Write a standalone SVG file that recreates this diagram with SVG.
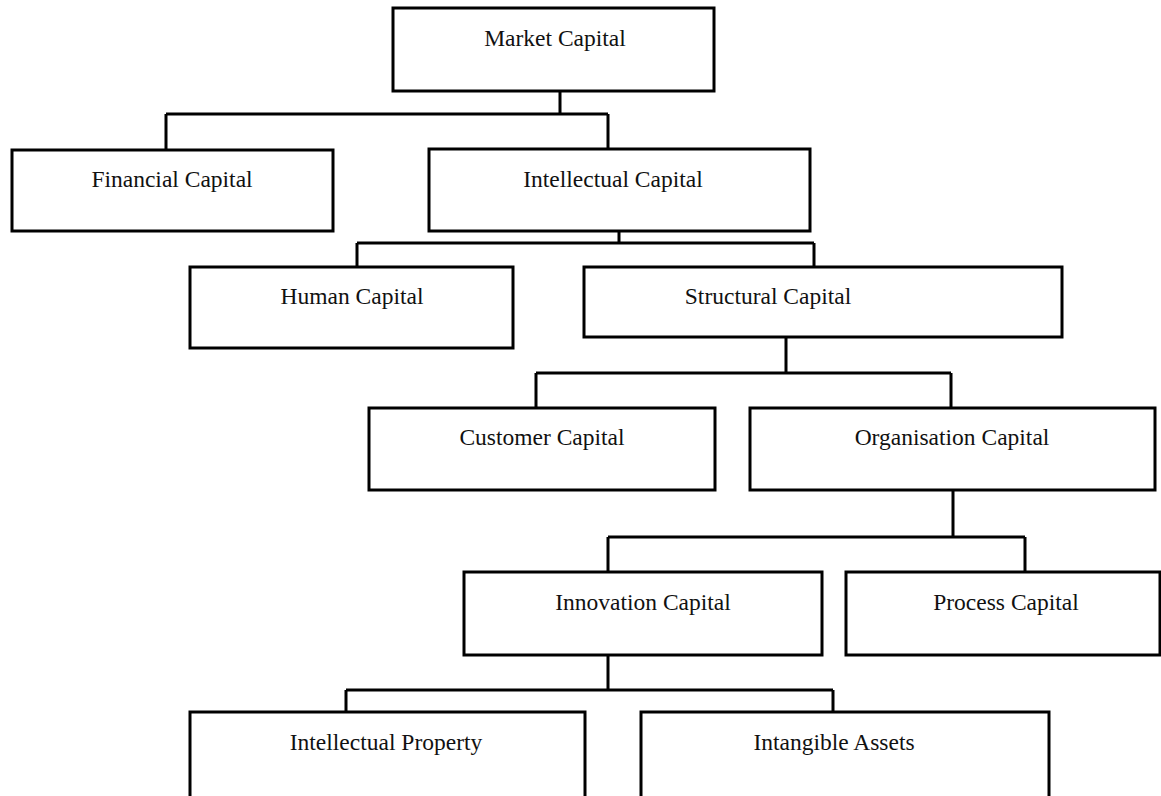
<svg xmlns="http://www.w3.org/2000/svg" width="1161" height="796" viewBox="0 0 1161 796">
<style>
.box{fill:#fff;stroke:#000;stroke-width:3}
.lbl{font-family:"Liberation Serif","Times New Roman",serif;font-size:23.5px;fill:#111;text-anchor:middle}
.conn{fill:none;stroke:#000;stroke-width:3}
</style>
<rect width="1161" height="796" fill="#fff"/>
<g id="connectors">
<path class="conn" d="M560 91V114M166 114H608M166 114V150M608 114V149"/>
<path class="conn" d="M619 231V243M357 243H814M357 243V267M814 243V267"/>
<path class="conn" d="M786 337V373M536 373H951M536 373V408M951 373V408"/>
<path class="conn" d="M953 490V537M608 537H1025M608 537V572M1025 537V572"/>
<path class="conn" d="M608 655V690M346 690H833M346 690V712M833 690V712"/>
</g>
<g id="market"><rect class="box" x="393" y="8" width="321" height="83"/><text class="lbl" x="555" y="46">Market Capital</text></g>
<g id="financial"><rect class="box" x="12" y="150" width="321" height="81"/><text class="lbl" x="172" y="187">Financial Capital</text></g>
<g id="intellectual"><rect class="box" x="429" y="149" width="381" height="82"/><text class="lbl" x="613" y="187">Intellectual Capital</text></g>
<g id="human"><rect class="box" x="190" y="267" width="323" height="81"/><text class="lbl" x="352" y="304">Human Capital</text></g>
<g id="structural"><rect class="box" x="584" y="267" width="478" height="70"/><text class="lbl" x="768" y="304">Structural Capital</text></g>
<g id="customer"><rect class="box" x="369" y="408" width="346" height="82"/><text class="lbl" x="542" y="445">Customer Capital</text></g>
<g id="organisation"><rect class="box" x="750" y="408" width="405" height="82"/><text class="lbl" x="952" y="445">Organisation Capital</text></g>
<g id="innovation"><rect class="box" x="464" y="572" width="358" height="83"/><text class="lbl" x="643" y="610">Innovation Capital</text></g>
<g id="process"><rect class="box" x="846" y="572" width="314" height="83"/><text class="lbl" x="1006" y="610">Process Capital</text></g>
<g id="ip"><rect class="box" x="190" y="712" width="395" height="86"/><text class="lbl" x="386" y="750">Intellectual Property</text></g>
<g id="intangible"><rect class="box" x="641" y="712" width="408" height="86"/><text class="lbl" x="834" y="750">Intangible Assets</text></g>
</svg>
